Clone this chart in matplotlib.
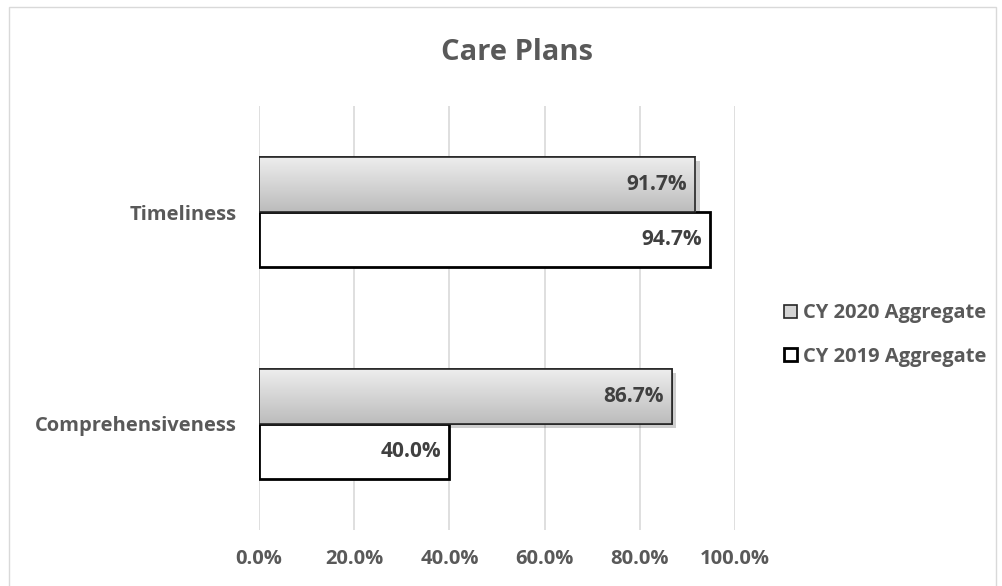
import numpy as np
import matplotlib.pyplot as plt
import matplotlib.patches as mpatches
import matplotlib.patheffects as pe
from matplotlib.colors import LinearSegmentedColormap

plt.rcParams['font.family'] = ['Open Sans', 'DejaVu Sans']

categories = ['Comprehensiveness', 'Timeliness']
cy2020 = [0.867, 0.917]
cy2019 = [0.400, 0.947]
series_names = ['CY 2020 Aggregate', 'CY 2019 Aggregate']
xticks = [0.0, 0.2, 0.4, 0.6, 0.8, 1.0]

text_col = '#595959'
label_col = '#404040'

fig = plt.figure(figsize=(10.03, 5.86), dpi=100)
# chart border
fig.patches.append(mpatches.Rectangle((9 / 1003, -0.1), 987 / 1003, 1 - 7 / 586 + 0.1,
                                      transform=fig.transFigure, fill=False,
                                      edgecolor='#d9d9d9', linewidth=1))

ax = fig.add_axes([259 / 1003, 1 - 530 / 586, 476 / 1003, 424 / 586])

y = np.arange(len(categories))
h = 0.26

# gray gradient bars (2020)
grad = np.linspace(0, 1, 100).reshape(-1, 1)
cmap = LinearSegmentedColormap.from_list('g', ['#eeeeee', '#bcbcbc'])
bars20 = ax.barh(y + h / 2, cy2020, height=h, color='#d0d0d0', edgecolor='#262626',
                 linewidth=1.2, zorder=3,
                 path_effects=[pe.SimplePatchShadow(offset=(3, -3), alpha=0.25), pe.Normal()])
for b in bars20:
    x0, y0 = b.get_x(), b.get_y()
    im = ax.imshow(grad, cmap=cmap, aspect='auto', origin='upper',
                   extent=(x0, x0 + b.get_width(), y0, y0 + b.get_height()), zorder=3.5)
    im.set_clip_path(b)
    ax.add_patch(mpatches.Rectangle((x0, y0), b.get_width(), b.get_height(),
                                    fill=False, edgecolor='#262626', linewidth=1.2, zorder=4))

bars19 = ax.barh(y - h / 2, cy2019, height=h, color='white', edgecolor='black',
                 linewidth=2, zorder=3)

for vals, off in ((cy2020, h / 2), (cy2019, -h / 2)):
    for yi, v in zip(y, vals):
        ax.text(v - 0.017, yi + off, f'{v * 100:.1f}%', ha='right', va='center',
                fontsize=15, fontweight='bold', color=label_col, zorder=5)

ax.set_xlim(0, 1.0)
ax.set_ylim(-0.5, 1.5)
ax.set_xticks(xticks)
ax.set_xticklabels([f'{t * 100:.1f}%' for t in xticks], fontsize=14.5,
                   fontweight='bold', color=text_col)
ax.set_yticks(y)
ax.set_yticklabels(categories, fontsize=14.5, fontweight='bold', color=text_col)
ax.tick_params(axis='x', length=0, pad=14)
ax.tick_params(axis='y', length=0, pad=16)
ax.grid(axis='x', color='#d9d9d9', linewidth=1.2, zorder=0)
for s in ax.spines.values():
    s.set_visible(False)

fig.text(517 / 1003, 1 - 52 / 586, 'Care Plans', ha='center', va='center',
         fontsize=21, fontweight='bold', color=text_col)

handles = [mpatches.Patch(facecolor='#d4d4d4', edgecolor='#262626', linewidth=1.2),
           mpatches.Patch(facecolor='white', edgecolor='black', linewidth=2)]
fig.legend(handles, series_names, loc='center left', bbox_to_anchor=(766 / 1003, 1 - 335 / 586),
           frameon=False, prop={'size': 14.5, 'weight': 'bold'}, labelcolor=text_col,
           handlelength=0.65, handleheight=0.65, handletextpad=0.3, labelspacing=1.15)

fig.savefig('out.png', dpi=100)
